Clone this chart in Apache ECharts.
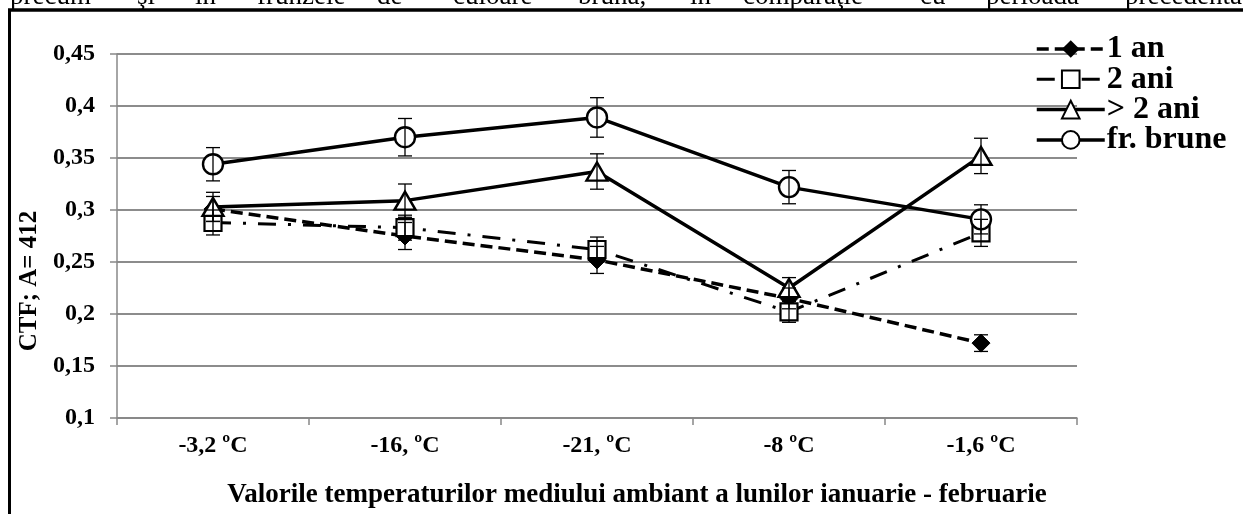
<!DOCTYPE html>
<html>
<head>
<meta charset="utf-8">
<script src="https://cdn.jsdelivr.net/npm/echarts@6/dist/echarts.min.js"></script>
<style>
html,body{margin:0;padding:0;background:#fff;}
#c{width:1243px;height:514px;}
</style>
</head>
<body>
<div id="c"></div>
<script>
// ---- data ----
const categories = ['-3,2 ºC', '-16, ºC', '-21, ºC', '-8 ºC', '-1,6 ºC'];
const seriesNames = ['1 an', '2 ani', '> 2 ani', 'fr. brune'];
const val1an   = [0.301, 0.275, 0.252, 0.215, 0.172];
const val2ani  = [0.288, 0.283, 0.262, 0.202, 0.278];
const valGt2   = [0.303, 0.309, 0.337, 0.225, 0.352];
const valBrune = [0.344, 0.370, 0.389, 0.322, 0.291];
const err1an   = [0.012, 0.013, 0.013, 0.010, 0.008];
const err2ani  = [0.012, 0.012, 0.012, 0.010, 0.013];
const errGt2   = [0.014, 0.016, 0.017, 0.010, 0.017];
const errBrune = [0.016, 0.018, 0.019, 0.016, 0.014];
const yAxisName = 'CTF; A= 412';
const xAxisName = 'Valorile temperaturilor mediului ambiant a lunilor ianuarie - februarie';
const topWords = ['precum', 'şi', 'în', 'frunzele', 'de', 'culoare', 'brună,', 'în', 'comparaţie', 'cu', 'perioada', 'precedentă'];
const topWordX = [10, 137, 195, 257, 377, 453, 578, 690, 743, 920, 986, 1125];

const FONT = '"Liberation Serif", "Times New Roman", serif';

function errSeries(vals, errs) {
  return {
    type: 'custom',
    silent: true,
    z: 5,
    data: vals.map((v, i) => [i, v, errs[i]]),
    encode: { x: 0, y: 1 },
    renderItem: function (params, api) {
      const x = api.value(0), v = api.value(1), e = api.value(2);
      const top = api.coord([x, v + e]);
      const bot = api.coord([x, v - e]);
      const w = 7;
      const st = { stroke: '#000', lineWidth: 1.3 };
      return {
        type: 'group',
        children: [
          { type: 'line', shape: { x1: top[0], y1: top[1], x2: bot[0], y2: bot[1] }, style: st },
          { type: 'line', shape: { x1: top[0] - w, y1: top[1], x2: top[0] + w, y2: top[1] }, style: st },
          { type: 'line', shape: { x1: bot[0] - w, y1: bot[1], x2: bot[0] + w, y2: bot[1] }, style: st }
        ]
      };
    }
  };
}

const graphics = topWords.map((w, i) => ({
  type: 'text', x: topWordX[i], y: -3, z: 1,
  style: { text: w, font: 'normal 27px ' + FONT, fill: '#000', verticalAlign: 'middle', align: 'left' }
}));
graphics.push(
  { type: 'line', shape: { x1: 8, y1: 10, x2: 1243, y2: 10 }, style: { stroke: '#000', lineWidth: 3.5 }, z: 10 },
  { type: 'line', shape: { x1: 9.5, y1: 9, x2: 9.5, y2: 514 }, style: { stroke: '#000', lineWidth: 3 }, z: 10 }
);

const legendWidths = [3.5, 3, 3.5, 3.5];

const chart = echarts.init(document.getElementById('c'), null, { renderer: 'canvas' });
chart.setOption({
  animation: false,
  backgroundColor: '#fff',
  textStyle: { fontFamily: FONT },
  graphic: graphics,
  grid: { left: 117, right: 166, top: 54, bottom: 96, containLabel: false },
  legend: {
    orient: 'vertical',
    left: 1030,
    top: 28,
    itemWidth: 68,
    itemHeight: 22,
    itemGap: -1.7,
    data: seriesNames.map((n, i) => ({ name: n, lineStyle: { width: legendWidths[i] } })),
    textStyle: { fontFamily: FONT, fontWeight: 'bold', fontSize: 32, lineHeight: 30, color: '#000', padding: [0, 0, 0, -3] }
  },
  xAxis: {
    type: 'category',
    data: categories,
    boundaryGap: true,
    axisLine: { lineStyle: { color: '#888', width: 1.5 } },
    axisTick: { show: true, length: 7, lineStyle: { color: '#888', width: 1.5 } },
    axisLabel: { fontFamily: FONT, fontWeight: 'bold', fontSize: 24, color: '#000', margin: 16 },
    name: xAxisName,
    nameLocation: 'middle',
    nameGap: 64,
    nameTextStyle: { fontFamily: FONT, fontWeight: 'bold', fontSize: 27, color: '#000', padding: [0, 0, 0, 80] }
  },
  yAxis: {
    type: 'value',
    min: 0.1,
    max: 0.45,
    interval: 0.05,
    axisLine: { show: true, lineStyle: { color: '#888', width: 1.5 } },
    axisTick: { show: true, length: 7, lineStyle: { color: '#888', width: 1.5 } },
    splitLine: { show: true, lineStyle: { color: '#8c8c8c', width: 2 } },
    axisLabel: {
      fontFamily: FONT, fontWeight: 'bold', fontSize: 24, color: '#000', margin: 22,
      formatter: v => parseFloat(v.toFixed(2)).toString().replace('.', ',')
    },
    name: yAxisName,
    nameLocation: 'middle',
    nameGap: 72,
    nameRotate: 90,
    nameTextStyle: { fontFamily: FONT, fontWeight: 'bold', fontSize: 25, color: '#000', padding: [0, 90, 0, 0] }
  },
  series: [
    {
      name: seriesNames[0], type: 'line', data: val1an, z: 3,
      symbol: 'diamond', symbolSize: 18,
      itemStyle: { color: '#000', borderColor: '#000' },
      lineStyle: { color: '#000', width: 3.5, type: [12, 6] }
    },
    {
      name: seriesNames[1], type: 'line', data: val2ani, z: 3,
      symbol: 'rect', symbolSize: 17,
      itemStyle: { color: '#fff', borderColor: '#000', borderWidth: 2.2 },
      lineStyle: { color: '#000', width: 3, type: [18, 12, 3, 12] }
    },
    {
      name: seriesNames[2], type: 'line', data: valGt2, z: 3,
      symbol: 'triangle', symbolSize: [21, 18],
      itemStyle: { color: '#fff', borderColor: '#000', borderWidth: 2.4 },
      lineStyle: { color: '#000', width: 3.5, type: 'solid' }
    },
    {
      name: seriesNames[3], type: 'line', data: valBrune, z: 3,
      symbol: 'circle', symbolSize: 20,
      itemStyle: { color: '#fff', borderColor: '#000', borderWidth: 2.4 },
      lineStyle: { color: '#000', width: 3.5, type: 'solid' }
    },
    errSeries(val1an, err1an),
    errSeries(val2ani, err2ani),
    errSeries(valGt2, errGt2),
    errSeries(valBrune, errBrune)
  ]
});
</script>
</body>
</html>
